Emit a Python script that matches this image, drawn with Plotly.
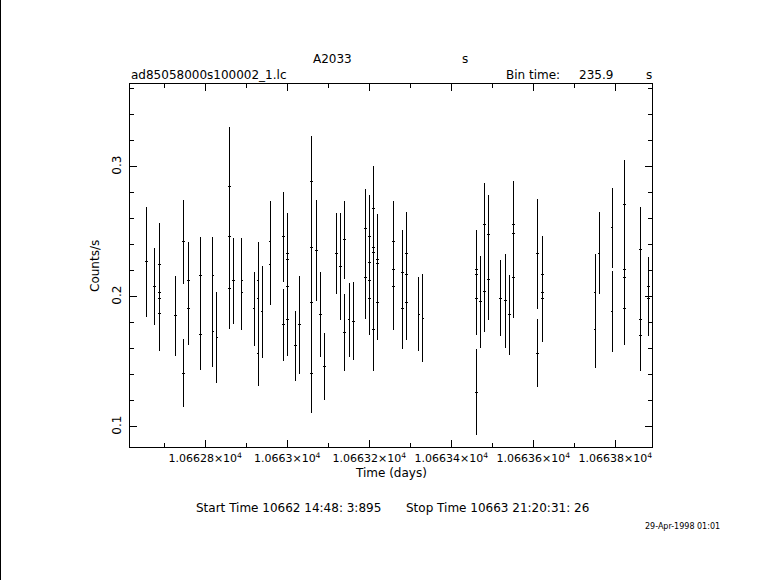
import plotly.graph_objects as go

# ---------------- data ----------------
time_days = [
    10662.6575, 10662.6770,
    10662.6885, 10662.6885, 10662.6885, 10662.6885,
    10662.7284,
    10662.7479, 10662.7479,
    10662.7601, 10662.7601,
    10662.7888, 10662.7888,
    10662.8188, 10662.8188,
    10662.8286,
    10662.8597, 10662.8597, 10662.8597,
    10662.8694,
    10662.8897, 10662.8897,
    10662.9191,
    10662.9289, 10662.9289, 10662.9289,
    10662.9386,
    10662.9582, 10662.9582,
    10662.9900, 10662.9900,
    10663.0000, 10663.0000, 10663.0000, 10663.0000,
    10663.0193, 10663.0291,
    10663.0594, 10663.0594, 10663.0594, 10663.0594,
    10663.0707, 10663.0804, 10663.0902, 10663.1196, 10663.1293,
    10663.1391, 10663.1391,
    10663.1506, 10663.1611,
    10663.1905, 10663.1905,
    10663.2012, 10663.2012, 10663.2012, 10663.2012,
    10663.2110, 10663.2110, 10663.2110, 10663.2110,
    10663.2208, 10663.2208, 10663.2208,
    10663.2599, 10663.2599, 10663.2599,
    10663.2809, 10663.2809,
    10663.2907, 10663.2907, 10663.2907,
    10663.3210, 10663.3308,
    10663.4619, 10663.4619, 10663.4619, 10663.4619,
    10663.4716,
    10663.4814, 10663.4814,
    10663.4912, 10663.4912,
    10663.5205, 10663.5328, 10663.5425,
    10663.5509, 10663.5509, 10663.5509,
    10663.6110, 10663.6110,
    10663.6218, 10663.6218, 10663.6218,
    10663.7504, 10663.7504,
    10663.7601,
    10663.7919, 10663.7919,
    10663.8230, 10663.8230, 10663.8230, 10663.8230,
    10663.8614, 10663.8614, 10663.8614,
    10663.8809, 10663.8809,
]
rate = [
    0.2269, 0.2079,
    0.2246, 0.2038, 0.1992, 0.1872,
    0.1854,
    0.2423, 0.1415,
    0.2123, 0.1908,
    0.2162, 0.1715,
    0.2162, 0.1731,
    0.1688,
    0.2846, 0.2462, 0.2062,
    0.2123,
    0.2128, 0.2038,
    0.1908,
    0.2123, 0.1992, 0.1569,
    0.1885,
    0.2423, 0.2246,
    0.2462, 0.1785,
    0.2338, 0.2292, 0.2079, 0.1823,
    0.1623, 0.1785,
    0.2885, 0.2377, 0.1954, 0.1415,
    0.2354, 0.1866, 0.1462, 0.2333, 0.2235,
    0.2441, 0.1725,
    0.1823, 0.1815,
    0.2525, 0.2148,
    0.2462, 0.2262, 0.2123, 0.1992,
    0.2677, 0.2379, 0.2341, 0.1746,
    0.2292, 0.2254, 0.1954,
    0.2423, 0.2208, 0.2079,
    0.2185, 0.1908,
    0.2331, 0.2169, 0.1954,
    0.1869, 0.1838,
    0.2208, 0.2169, 0.1992, 0.1269,
    0.1962,
    0.2556, 0.2041,
    0.2479, 0.2133,
    0.1992, 0.1969, 0.1862,
    0.2554, 0.2485, 0.2146,
    0.2331, 0.1569,
    0.2169, 0.2038, 0.1992,
    0.2038, 0.1746,
    0.2338,
    0.2533, 0.1887,
    0.2715, 0.2208, 0.2146, 0.1908,
    0.2362, 0.1823, 0.1700,
    0.2077, 0.1992,
]
rate_err = [
    0.0425, 0.0298,
    0.0325, 0.0308, 0.0308, 0.0287,
    0.0310,
    0.0323, 0.0259,
    0.0302, 0.0279,
    0.0302, 0.0279,
    0.0302, 0.0267,
    0.0352,
    0.0462, 0.0346, 0.0310,
    0.0333,
    0.0328, 0.0295,
    0.0283,
    0.0302, 0.0292, 0.0256,
    0.0356,
    0.0318, 0.0310,
    0.0348, 0.0279,
    0.0310, 0.0308, 0.0292, 0.0279,
    0.0272, 0.0375,
    0.0354, 0.0338, 0.0323, 0.0308,
    0.0388, 0.0329, 0.0258, 0.0314, 0.0414,
    0.0300, 0.0298,
    0.0283, 0.0298,
    0.0308, 0.0321,
    0.0323, 0.0308, 0.0308, 0.0285,
    0.0333, 0.0308, 0.0308, 0.0315,
    0.0348, 0.0308, 0.0288,
    0.0318, 0.0308, 0.0336,
    0.0333, 0.0310,
    0.0325, 0.0308, 0.0287,
    0.0283, 0.0341,
    0.0310, 0.0308, 0.0288, 0.0331,
    0.0356,
    0.0323, 0.0313,
    0.0308, 0.0313,
    0.0291, 0.0364, 0.0306,
    0.0341, 0.0308, 0.0311,
    0.0422, 0.0260,
    0.0302, 0.0308, 0.0342,
    0.0295, 0.0295,
    0.0314,
    0.0308, 0.0313,
    0.0341, 0.0308, 0.0308, 0.0280,
    0.0333, 0.0308, 0.0272,
    0.0231, 0.0291,
]

x_range = [10662.61671, 10663.88925]
y_range = [0.0846, 0.3638]
x_tick_vals = [10662.8, 10663.0, 10663.2, 10663.4, 10663.6, 10663.8]
x_tick_text = ["1.06628×10<sup>4</sup>", "1.0663×10<sup>4</sup>", "1.06632×10<sup>4</sup>",
               "1.06634×10<sup>4</sup>", "1.06636×10<sup>4</sup>", "1.06638×10<sup>4</sup>"]
y_tick_vals = [0.1, 0.2, 0.3]
y_tick_text = ["0.1", "0.2", "0.3"]

# ---------------- layout geometry ----------------
W, H = 781, 580
L, R, T, B = 130, 129, 84, 133
PW, PH = W - L - R, H - T - B


def xp(px):
    return (px - L) / PW


def yp(py):
    return (H - B - py) / PH


FONT = "DejaVu Sans"

fig = go.Figure()
fig.add_trace(go.Scatter(
    x=time_days, y=rate, mode="markers",
    marker=dict(symbol="line-ew", size=2, color="black",
                line=dict(color="black", width=1)),
    error_y=dict(type="data", array=rate_err, visible=True,
                 color="black", thickness=1, width=0),
    showlegend=False, hoverinfo="x+y",
))

axis_common = dict(
    showline=True, linecolor="black", linewidth=1, mirror="ticks",
    ticks="inside", tickcolor="black", tickwidth=1, ticklen=7,
    showgrid=False, zeroline=False, automargin=False,
)

fig.update_xaxes(
    range=x_range, tickmode="array", tickvals=x_tick_vals, ticktext=x_tick_text,
    tickangle=0, ticklabelstandoff=1,
    tickfont=dict(family=FONT, size=11, color="black"),
    minor=dict(ticks="inside", ticklen=4, dtick=0.1, tick0=10662.8,
               tickcolor="black", showgrid=False),
    **axis_common,
)
fig.update_yaxes(
    range=y_range, tickmode="array", tickvals=y_tick_vals, ticktext=y_tick_text,
    tickangle=-90, ticklabelstandoff=3,
    tickfont=dict(family=FONT, size=12, color="black"),
    minor=dict(ticks="inside", ticklen=4, dtick=0.02, tick0=0.1,
               tickcolor="black", showgrid=False),
    **axis_common,
)

ann = []


def txt(text, px, py, size=12, xanchor="left", angle=0):
    ann.append(dict(text=text, x=xp(px), y=yp(py), xref="paper", yref="paper",
                    xanchor=xanchor, yanchor="middle", showarrow=False,
                    textangle=angle,
                    font=dict(family=FONT, size=size, color="black")))


txt("A2033", 332, 59, xanchor="center")
txt("s", 465, 59, xanchor="center")
txt("ad85058000s100002_1.lc", 129, 75)
txt("Bin time:", 504, 75)
txt("235.9", 577, 75)
txt("s", 644, 75)
txt("Time (days)", 391, 473, xanchor="center")
txt("Counts/s", 95, 266, xanchor="center", angle=-90)
txt("Start Time 10662 14:48: 3:895", 194, 508)
txt("Stop Time 10663 21:20:31: 26", 404, 508)
txt("29-Apr-1998 01:01", 643, 526, size=8)

fig.update_layout(
    width=W, height=H,
    margin=dict(l=L, r=R, t=T, b=B, pad=0),
    paper_bgcolor="white", plot_bgcolor="white",
    annotations=ann,
    shapes=[dict(type="line", xref="paper", yref="paper",
                 x0=xp(0.5), x1=xp(0.5), y0=yp(0), y1=yp(H),
                 line=dict(color="black", width=1))],
)

post = (
    "document.body.style.margin='0px';"
    "document.querySelectorAll('.errorbar path, .point').forEach(function(p){"
    "p.style.shapeRendering='crispEdges';});"
)
fig.write_html("out.html", config={"displayModeBar": False}, post_script=post)
